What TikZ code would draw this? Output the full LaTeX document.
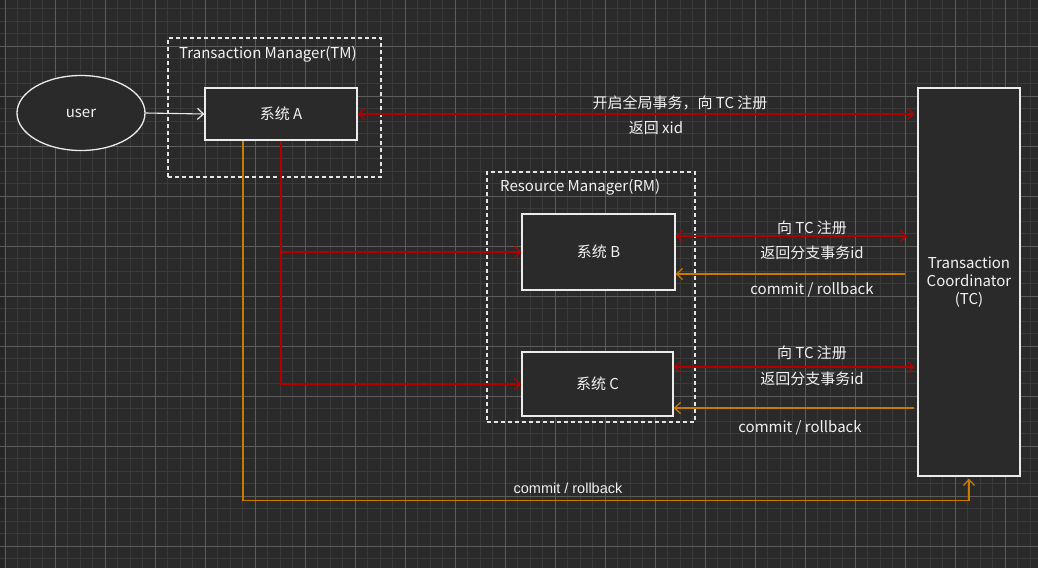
\documentclass[tikz,border=0pt]{standalone}
\usepackage{fontspec}
\setmainfont{Noto Sans CJK SC}
\newfontfamily\arialfont{Liberation Sans}
\usetikzlibrary{arrows.meta,shapes.geometric}
\definecolor{bgc}{HTML}{2A2A2A}
\definecolor{edgebg}{HTML}{252525}
\definecolor{minorc}{HTML}{3A3A3A}
\definecolor{majorc}{HTML}{5C5C5C}
\definecolor{redc}{HTML}{B20000}
\definecolor{orgc}{HTML}{C97A00}
\definecolor{txtc}{HTML}{F2F2F2}
\tikzset{
  box/.style={draw=white!92!black, line width=1.3pt, fill=bgc, inner sep=0pt, text=txtc, font=\fontsize{15}{18}\selectfont},
  dashbox/.style={draw=white!90!black, line width=1.3pt, dash pattern=on 4pt off 3pt, inner sep=0pt},
  lbl/.style={text=txtc, font=\fontsize{15}{18}\selectfont, inner sep=0pt},
  alabel/.style={text=txtc, font=\arialfont\fontsize{14.5}{17}\selectfont, inner sep=0pt},
  bt/.tip={Straight Barb[length=6pt,width=11pt,line width=1.2pt]},
  redline/.style={draw=redc, line width=1.8pt},
  orgline/.style={draw=orgc, line width=1.6pt},
}
\begin{document}
\begin{tikzpicture}[x=1pt,y=-1pt]
\useasboundingbox (0,0) rectangle (1038,568);
\fill[bgc] (0,0) rectangle (1038,568);
\fill[edgebg] (0,0) rectangle (4,568);
% grid
\foreach \i in {0,...,82} {\draw[minorc, line width=0.6pt] ({5+12.5*\i},0) -- ({5+12.5*\i},568);}
\foreach \i in {0,...,44} {\draw[minorc, line width=0.6pt] (0,{8.5+12.5*\i}) -- (1038,{8.5+12.5*\i});}
\foreach \i in {0,...,20} {\draw[majorc, line width=0.7pt] ({5+50*\i},0) -- ({5+50*\i},568);}
\foreach \i in {0,...,10} {\draw[majorc, line width=0.7pt] (0,{46+50*\i}) -- (1038,{46+50*\i});}

% containers
\node[dashbox, minimum width=213pt, minimum height=139pt] (TM) at (274.5,107.5) {};
\node[lbl, anchor=west] (TMl) at (179,54) {Transaction Manager(TM)};
\node[dashbox, minimum width=208pt, minimum height=250pt] (RM) at (591,297) {};
\node[lbl, anchor=west] (RMl) at (500,187) {Resource Manager(RM)};

% nodes
\node[box, ellipse, minimum width=128pt, minimum height=75pt] (user) at (81,113) {user};
\node[box, minimum width=152pt, minimum height=52pt] (A) at (281,114) {系统 A};
\node[box, minimum width=153pt, minimum height=76pt] (B) at (598.5,252) {系统 B};
\node[box, minimum width=151pt, minimum height=64pt] (C) at (597.5,384) {系统 C};
\node[box, minimum width=102pt, minimum height=388pt, align=center] (TC) at (969,282) {Transaction\\Coordinator\\(TC)};

% user -> A
\draw[draw=white!92!black, line width=1.1pt, -{bt}] (user.east) -- (A.west);

% A <-> TC
\draw[redline, {bt}-{bt}, shorten >=3pt] (A.east) -- (A.east -| TC.west);
\node[lbl] (l1) at (680,103) {开启全局事务，向 TC 注册};
\node[lbl] (l2) at (656,128) {返回 xid};

% A -> B, C
\draw[redline, -{bt}] (A.south) |- (C.west);
\draw[redline, -{bt}] (A.south |- B.west) -- (B.west);

% A -> TC commit/rollback
\draw[orgline, -{bt}, shorten >=2pt] ([xshift=-38pt]A.south) -- ++(0,360) -| (TC.south);
\node[alabel] (l9) at (568,488) {commit / rollback};

% B <-> TC
\draw[redline, {bt}-{bt}, shorten >=10pt] (B.east |- 0,236) -- (TC.west |- 0,236);
\node[lbl] (l3) at (812,228) {向 TC 注册};
\node[lbl] (l4) at (812,253) {返回分支事务id};
\draw[orgline, -{bt}, shorten <=12pt] (TC.west |- 0,274) -- (B.east |- 0,274);
\node[lbl] (l5) at (812,290) {commit / rollback};

% C <-> TC
\draw[redline, {bt}-{bt}, shorten >=3pt] (C.east |- 0,367) -- (TC.west |- 0,367);
\node[lbl] (l6) at (812,353) {向 TC 注册};
\node[lbl] (l7) at (812,379) {返回分支事务id};
\draw[orgline, -{bt}, shorten <=3pt] (TC.west |- 0,408) -- (C.east |- 0,408);
\node[lbl] (l8) at (800,428) {commit / rollback};
\end{tikzpicture}
\end{document}
